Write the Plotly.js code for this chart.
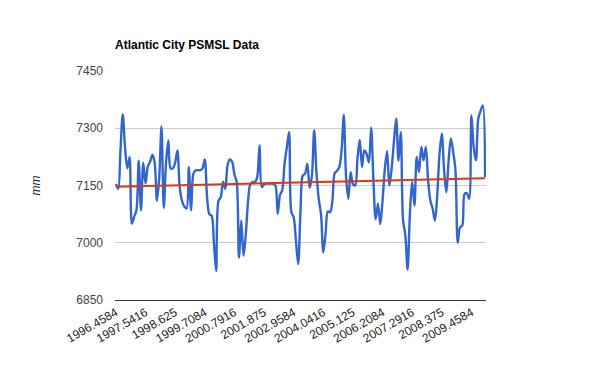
<!DOCTYPE html>
<html>
<head>
<meta charset="utf-8">
<script src="https://cdn.plot.ly/plotly-3.0.1.min.js"></script>
<style>html,body{margin:0;padding:0;background:#fff;}#chart{width:600px;height:371px;}</style>
</head>
<body>
<div id="chart"></div>
<script>
// Month labels (PSMSL decimal years), June 1996 to December 2009
const CATEGORIES = [
  "1996.4584","1996.5416","1996.625","1996.7084","1996.7916","1996.875","1996.9584",
  "1997.0417","1997.125","1997.2084","1997.2916","1997.375","1997.4584","1997.5416","1997.625","1997.7084","1997.7916","1997.875","1997.9584",
  "1998.0417","1998.125","1998.2084","1998.2916","1998.375","1998.4584","1998.5416","1998.625","1998.7084","1998.7916","1998.875","1998.9584",
  "1999.0417","1999.125","1999.2084","1999.2916","1999.375","1999.4584","1999.5416","1999.625","1999.7084","1999.7916","1999.875","1999.9584",
  "2000.0417","2000.125","2000.2084","2000.2916","2000.375","2000.4584","2000.5416","2000.625","2000.7084","2000.7916","2000.875","2000.9584",
  "2001.0417","2001.125","2001.2084","2001.2916","2001.375","2001.4584","2001.5416","2001.625","2001.7084","2001.7916","2001.875","2001.9584",
  "2002.0417","2002.125","2002.2084","2002.2916","2002.375","2002.4584","2002.5416","2002.625","2002.7084","2002.7916","2002.875","2002.9584",
  "2003.0417","2003.125","2003.2084","2003.2916","2003.375","2003.4584","2003.5416","2003.625","2003.7084","2003.7916","2003.875","2003.9584",
  "2004.0416","2004.125","2004.2084","2004.2916","2004.375","2004.4584","2004.5416","2004.625","2004.7084","2004.7916","2004.875","2004.9584",
  "2005.0417","2005.125","2005.2084","2005.2916","2005.375","2005.4584","2005.5416","2005.625","2005.7084","2005.7916","2005.875","2005.9584",
  "2006.0417","2006.125","2006.2084","2006.2916","2006.375","2006.4584","2006.5416","2006.625","2006.7084","2006.7916","2006.875","2006.9584",
  "2007.0417","2007.125","2007.2084","2007.2916","2007.375","2007.4584","2007.5416","2007.625","2007.7084","2007.7916","2007.875","2007.9584",
  "2008.0417","2008.125","2008.2084","2008.2916","2008.375","2008.4584","2008.5416","2008.625","2008.7084","2008.7916","2008.875","2008.9584",
  "2009.0417","2009.125","2009.2084","2009.2916","2009.375","2009.4584","2009.5416","2009.625","2009.7084","2009.7916","2009.875","2009.9584"
];

// Monthly mean sea level, mm
const SEA_LEVEL = [
  7154,7141,7242,7337,7250,7195,7225,7050,7068,7085,
  7215,7085,7210,7155,7200,7212,7231,7210,7110,7170,
  7305,7091,7210,7268,7195,7195,7210,7242,7145,7110,
  7095,7090,7198,7085,7181,7190,7190,7190,7195,7218,
  7119,7075,7071,7000,6926,7110,7119,7160,7141,7203,
  7218,7212,7179,7159,6961,7058,6966,7023,7110,7154,
  7159,7159,7172,7255,7146,7153,7155,7155,7155,7155,
  7150,7076,7125,7138,7207,7250,7290,7080,7067,7005,
  6944,7084,7176,7181,7207,7144,7175,7295,7185,7115,
  7075,6975,7023,7082,7080,7110,7182,7188,7198,7240,
  7335,7172,7115,7185,7154,7150,7220,7270,7198,7242,
  7233,7211,7302,7163,7062,7102,7049,7110,7193,7240,
  7150,7195,7265,7325,7215,7290,7060,7020,6930,7075,
  7160,7097,7225,7185,7251,7216,7251,7163,7110,7089,
  7058,7124,7233,7286,7190,7132,7216,7273,7238,7190,
  7000,7040,7045,7128,7130,7115,7334,7250,7216,7325,
  7345,7360,7172
];

// Linear trend end values, mm
const TREND_VALUES = [7147, 7169];

const TICK_LABELS = ["1996.4584","1997.5416","1998.625","1999.7084","2000.7916","2001.875",
  "2002.9584","2004.0416","2005.125","2006.2084","2007.2916","2008.375","2009.4584"];
const Y_TICKS = [6850, 7000, 7150, 7300, 7450];

const FONT = "Arial, 'Liberation Sans', sans-serif";

const traces = [
  {
    x: CATEGORIES, y: SEA_LEVEL, type: "scatter", mode: "lines",
    line: {color: "#3366cc", width: 2.4, shape: "spline", smoothing: 0.9},
    hoverinfo: "x+y", showlegend: false
  },
  {
    x: [CATEGORIES[0], CATEGORIES[CATEGORIES.length - 1]], y: TREND_VALUES,
    type: "scatter", mode: "lines",
    line: {color: "#dc3912", width: 2},
    hoverinfo: "skip", showlegend: false
  }
];

const layout = {
  width: 600, height: 371,
  margin: {l: 115, r: 114, t: 71, b: 71, pad: 0},
  paper_bgcolor: "#ffffff", plot_bgcolor: "#ffffff",
  font: {family: FONT, size: 12, color: "#222"},
  title: {
    text: "<b>Atlantic City PSMSL Data</b>",
    font: {family: FONT, size: 12, color: "#000"},
    x: 115 / 600, xref: "container", xanchor: "left",
    y: 1 - 45 / 371, yref: "container", yanchor: "middle"
  },
  xaxis: {
    type: "category", categoryorder: "array", categoryarray: CATEGORIES,
    range: [-0.4, CATEGORIES.length - 0.6],
    tickvals: TICK_LABELS, ticktext: TICK_LABELS,
    tickangle: -30, ticks: "", showgrid: false, zeroline: false,
    showline: true, linecolor: "#333", linewidth: 1,
    tickfont: {family: FONT, size: 12, color: "#222"},
    automargin: false, fixedrange: true
  },
  yaxis: {
    range: [6850, 7450], tickvals: Y_TICKS, ticktext: Y_TICKS.map(String),
    showgrid: true, gridcolor: "#cccccc", gridwidth: 1,
    zeroline: false, showline: false, ticks: "",
    ticklabelstandoff: 11,
    tickfont: {family: FONT, size: 12, color: "#444"},
    title: {text: "<i>mm</i>", font: {family: FONT, size: 12, color: "#222"}, standoff: 33},
    automargin: false, fixedrange: true
  },
  showlegend: false
};

Plotly.newPlot("chart", traces, layout, {displayModeBar: false, staticPlot: true});
</script>
</body>
</html>
